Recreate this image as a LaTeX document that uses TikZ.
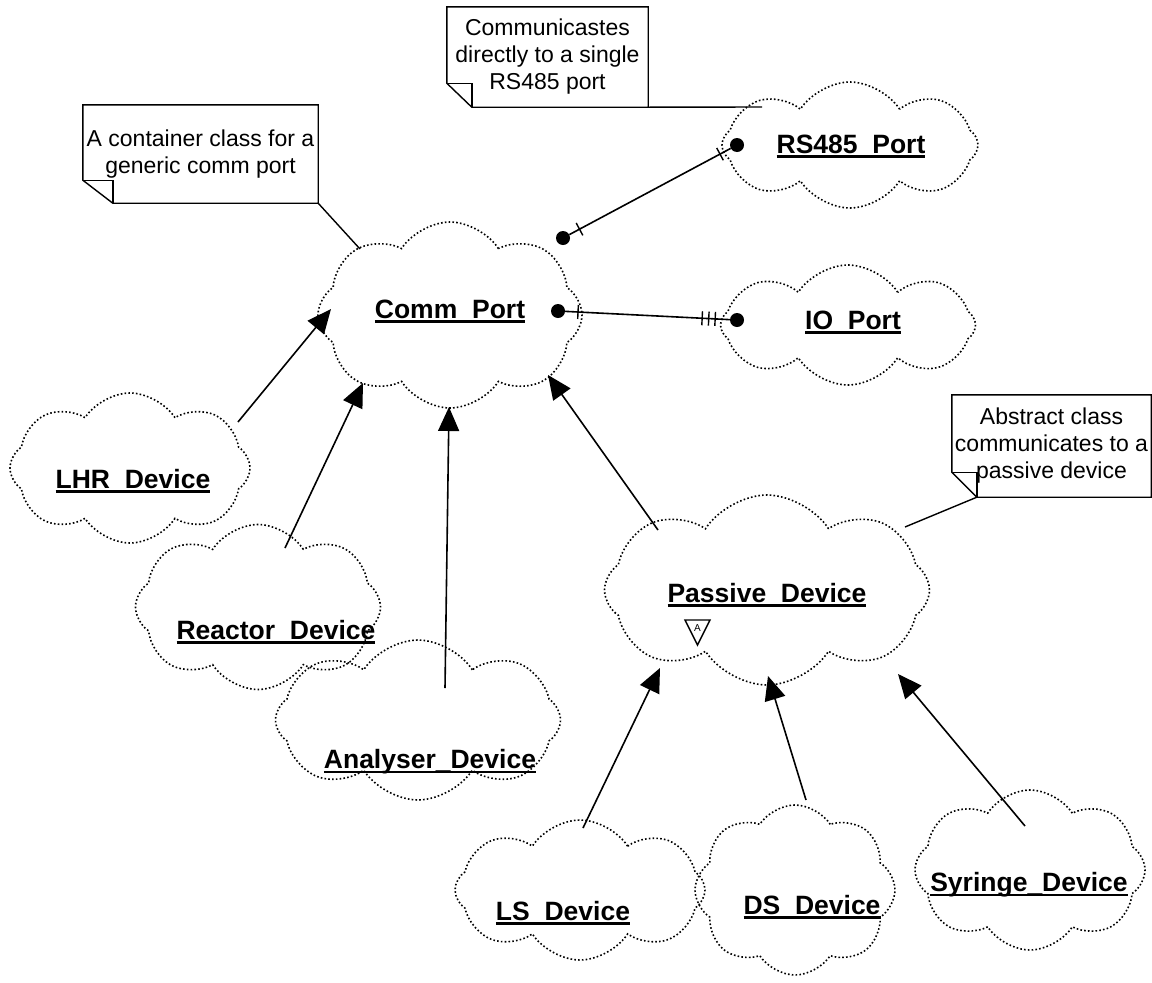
\documentclass[tikz,border=0pt]{standalone}
\usepackage{fontspec}
\setmainfont{Liberation Sans}
\usetikzlibrary{shapes.symbols,arrows.meta}
\newcommand\ulab[1]{{\setbox0\hbox{#1}\rlap{\copy0}\rule[-4.5pt]{\wd0}{2.4pt}}}
\tikzset{
  cls/.style={cloud, cloud puffs=8, cloud puff arc=115, cloud ignores aspect, draw,
    line width=1.6pt, dash pattern=on 1.6pt off 2.2pt, inner sep=0pt},
  lbl/.style={font=\fontsize{26.5}{30}\selectfont\bfseries, inner sep=0pt},
  notebox/.style={font=\fontsize{23}{27}\selectfont, align=center, inner sep=0pt},
  noteline/.style={line width=1.4pt, line join=miter},
  dot/.style={circle, fill=black, inner sep=0pt, minimum size=14pt},
  conn/.style={line width=1.6pt},
  tick/.style={draw, line width=1.4pt, inner sep=0pt, minimum width=0pt, minimum height=14pt},
  inh/.style={line width=1.6pt, -{Triangle[length=24pt,width=21pt]}}
}
\begin{document}
\begin{tikzpicture}[x=1pt,y=-1pt]
\useasboundingbox[fill=white] (0,0) rectangle (1152,983);

% clouds
\node[cls, minimum width=256pt, minimum height=126pt] (rs) at (850,145) {};
\node[lbl] at (851,146) {\ulab{RS485\_Port}};
\node[cls, minimum width=264pt, minimum height=186pt] (comm) at (450,315) {};
\node[lbl] at (450,311) {\ulab{Comm\_Port}};
\node[cls, minimum width=255pt, minimum height=120pt] (io) at (848,325) {};
\node[lbl] at (853,322) {\ulab{IO\_Port}};
\node[cls, minimum width=240pt, minimum height=150pt] (lhr) at (130,468) {};
\node[lbl] at (133,481) {\ulab{LHR\_Device}};
\node[cls, minimum width=245pt, minimum height=165pt] (reactor) at (258,607) {};
\node[lbl] at (276,632) {\ulab{Reactor\_Device}};
\node[cls, minimum width=285pt, minimum height=160pt] (analyser) at (418,720) {};
\node[lbl] at (430,762) {\ulab{Analyser\_Device}};
\node[cls, minimum width=325pt, minimum height=190pt] (passive) at (767,590) {};
\node[lbl] at (767,595) {\ulab{Passive\_Device}};
\node[cls, minimum width=250pt, minimum height=140pt] (ls) at (580,890) {};
\node[lbl] at (563,913) {\ulab{LS\_Device}};
\node[cls, minimum width=200pt, minimum height=170pt] (ds) at (795,890) {};
\node[lbl] at (812,907) {\ulab{DS\_Device}};
\node[cls, minimum width=230pt, minimum height=160pt] (syr) at (1030,870) {};
\node[lbl] at (1029,885) {\ulab{Syringe\_Device}};

% abstract marker
\draw[line width=1.4pt] (685,620) -- (710,620) -- (697.5,645) -- cycle;
\node[font=\fontsize{10}{10}\selectfont, inner sep=0pt] (absA) at (697.5,628) {A};

% notes
\node[notebox, minimum width=201pt, minimum height=100pt] (n1) at (547.5,57) {Communicastes\\directly to a single\\RS485 port};
\draw[noteline] (n1.north west) -- (n1.north east) -- (n1.south east) -- ([xshift=25pt]n1.south west) -- ([yshift=24pt]n1.south west) -- cycle;
\draw[noteline] ([yshift=24pt]n1.south west) -- ([xshift=25pt,yshift=24pt]n1.south west) -- ([xshift=25pt]n1.south west);

\node[notebox, minimum width=235pt, minimum height=98pt] (n2) at (200.5,154) {A container class for a\\generic comm port};
\draw[noteline] (n2.north west) -- (n2.north east) -- (n2.south east) -- ([xshift=30pt]n2.south west) -- ([yshift=23pt]n2.south west) -- cycle;
\draw[noteline] ([yshift=23pt]n2.south west) -- ([xshift=30pt,yshift=23pt]n2.south west) -- ([xshift=30pt]n2.south west);

\node[notebox, minimum width=199pt, minimum height=102pt] (n3) at (1051.5,446) {Abstract class\\communicates to a\\passive device};
\draw[noteline] (n3.north west) -- (n3.north east) -- (n3.south east) -- ([xshift=25pt]n3.south west) -- ([yshift=25pt]n3.south west) -- cycle;
\draw[noteline] ([yshift=25pt]n3.south west) -- ([xshift=25pt,yshift=25pt]n3.south west) -- ([xshift=25pt]n3.south west);

\coordinate (rsN) at (762,107);
\coordinate (commN) at (360,249);
\coordinate (passN) at (905,527);
\draw[noteline] (n1.south east) -- (rsN);
\draw[noteline] (n2.south east) -- (commN);
\draw[noteline] ([xshift=25pt]n3.south west) -- (passN);

% associations
\node[dot] (d1) at (563,238) {};
\node[dot] (d2) at (737,145) {};
\node[dot] (d3) at (558,311) {};
\node[dot] (d4) at (737,320) {};
\draw[conn] (d1) -- (d2)
  node[tick, sloped, pos=0.063] {}
  node[tick, sloped, pos=0.934] {};
\draw[conn] (d3) -- (d4)
  node[tick, sloped, pos=0.078] {}
  node[tick, sloped, pos=0.832] {}
  node[tick, sloped, pos=0.872] {}
  node[tick, sloped, pos=0.911] {};

% inheritance
\coordinate (lhrA) at (238,422);   \coordinate (commA1) at (331,309);
\coordinate (reaA) at (285,548);   \coordinate (commA2) at (363,383);
\coordinate (anaA) at (445,688);   \coordinate (commA3) at (449,407);
\coordinate (pasA) at (658,530);   \coordinate (commA4) at (548,375);
\coordinate (lsA) at (583,828);    \coordinate (pasB1) at (660,668);
\coordinate (dsA) at (806,800);    \coordinate (pasB2) at (768,676);
\coordinate (syrA) at (1025,826);  \coordinate (pasB3) at (898,674);
\draw[inh] (lhrA) -- (commA1);
\draw[inh] (reaA) -- (commA2);
\draw[inh] (anaA) -- (commA3);
\draw[inh] (pasA) -- (commA4);
\draw[inh] (lsA) -- (pasB1);
\draw[inh] (dsA) -- (pasB2);
\draw[inh] (syrA) -- (pasB3);
\end{tikzpicture}
\end{document}
